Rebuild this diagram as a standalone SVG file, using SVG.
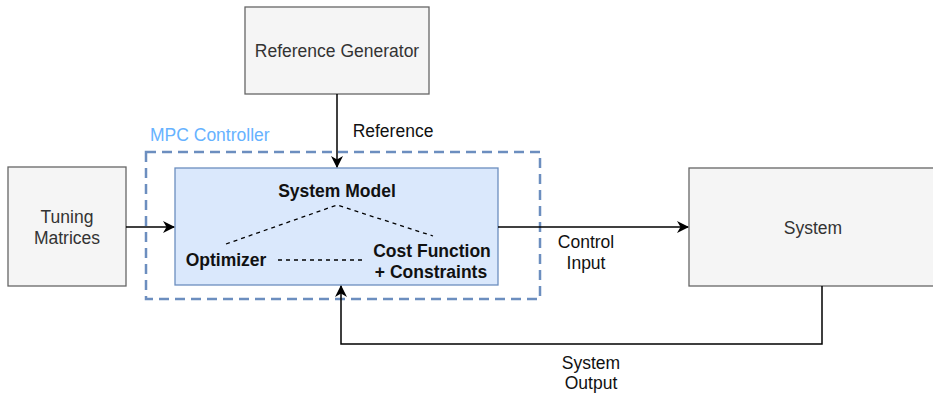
<svg xmlns="http://www.w3.org/2000/svg" width="933" height="395" viewBox="0 0 933 395">
<defs>
<marker id="arr" viewBox="0 0 12 12" refX="11" refY="6" markerWidth="12" markerHeight="12" markerUnits="userSpaceOnUse" orient="auto">
<path d="M0,0 L12,6 L0,12 L3.5,6 Z" fill="#000"/>
</marker>
<style>
.box{fill:#f5f5f5;stroke:#666;stroke-width:1.3}
.t{font-family:"Liberation Sans",Arial,sans-serif;font-size:17.5px;text-anchor:middle}
.n{fill:#333}
.l{fill:#111}
.b{font-weight:bold;fill:#111}
.c{fill:none;stroke:#000;stroke-width:1.5}
.d{fill:none;stroke:#000;stroke-width:1.3;stroke-dasharray:4 4}
</style>
</defs>
<rect width="933" height="395" fill="#fff"/>
<g id="mpc-container">
<rect x="146" y="152" width="394" height="147" fill="none" stroke="#6c8ebf" stroke-width="2.5" stroke-dasharray="10 6"/>
<text x="150" y="141" style="font-family:'Liberation Sans',Arial,sans-serif;font-size:17.5px;fill:#66b2ff">MPC Controller</text>
</g>
<g id="reference-generator">
<rect class="box" x="245" y="7" width="184" height="87"/>
<text class="t n" x="337" y="56.5">Reference Generator</text>
</g>
<g id="tuning-matrices">
<rect class="box" x="8" y="167" width="118" height="119"/>
<text class="t n" x="67" y="223">Tuning</text>
<text class="t n" x="67" y="244">Matrices</text>
</g>
<g id="system">
<rect class="box" x="689" y="168" width="250" height="118"/>
<text class="t n" x="813" y="234">System</text>
</g>
<g id="mpc">
<rect x="175" y="168" width="323" height="117" fill="#dae8fc" stroke="#6c8ebf" stroke-width="1.3"/>
<text class="t b" x="337" y="197">System Model</text>
<text class="t b" x="226" y="266">Optimizer</text>
<text class="t b" x="432" y="257">Cost Function</text>
<text class="t b" x="431" y="278">+ Constraints</text>
<path class="d" d="M226,244 L337,205 L433,236"/>
<path class="d" d="M278,260 L362,260"/>
</g>
<g id="connectors">
<path class="c" d="M337,94 L337,167" marker-end="url(#arr)"/>
<path class="c" d="M126,227 L174,227" marker-end="url(#arr)"/>
<path class="c" d="M498,227 L688,227" marker-end="url(#arr)"/>
<path class="c" d="M822,286 L822,344 L341,344 L341,286" marker-end="url(#arr)"/>
<text class="t l" x="393" y="137">Reference</text>
<text class="t l" x="586" y="248">Control</text>
<text class="t l" x="586" y="269">Input</text>
<text class="t l" x="591" y="369">System</text>
<text class="t l" x="591" y="389">Output</text>
</g>
</svg>
